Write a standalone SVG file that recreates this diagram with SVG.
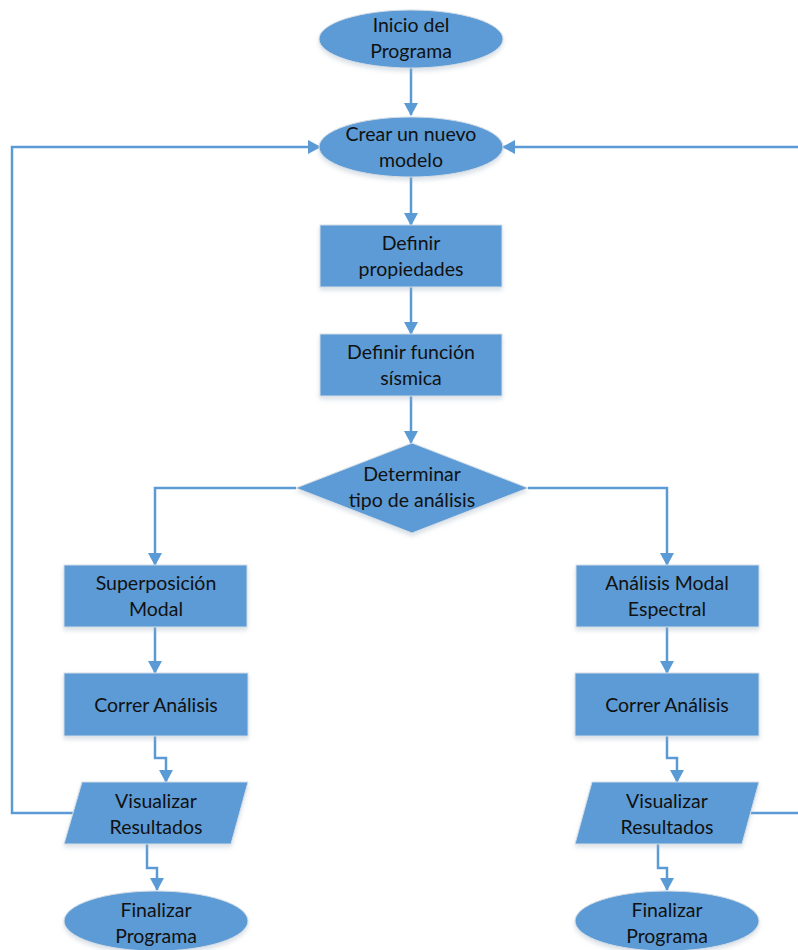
<svg xmlns="http://www.w3.org/2000/svg" width="798" height="950" viewBox="0 0 798 950">
<style>
.s{fill:#5B9BD5;stroke:#d5dde6;stroke-width:1;filter:url(#sh)}
.t{font-family:Lato,"Liberation Sans",sans-serif;font-size:19.5px;fill:#111;text-anchor:middle}
.c{fill:none;stroke:#5B9BD5;stroke-width:2.5}
</style>
<defs>
<filter id="sh" x="-10%" y="-10%" width="120%" height="130%"><feDropShadow dx="0" dy="3" stdDeviation="2" flood-color="#9ab" flood-opacity="0.35"/></filter>
<marker id="a" markerWidth="14" markerHeight="14" refX="12" refY="7" orient="auto" markerUnits="userSpaceOnUse"><path d="M0,0 L13,7 L0,14 Z" fill="#5B9BD5"/></marker>
</defs>
<g id="connectors">
<path class="c" d="M411,68 V115" marker-end="url(#a)"/>
<path class="c" d="M411,177 V225" marker-end="url(#a)"/>
<path class="c" d="M411,287 V334" marker-end="url(#a)"/>
<path class="c" d="M411,396 V443" marker-end="url(#a)"/>
<path class="c" d="M296,488 H155 V565" marker-end="url(#a)"/>
<path class="c" d="M528,488 H667 V565" marker-end="url(#a)"/>
<path class="c" d="M155,627 V673" marker-end="url(#a)"/>
<path class="c" d="M667,627 V673" marker-end="url(#a)"/>
<path class="c" d="M155,736 V758 H166 V782" marker-end="url(#a)"/>
<path class="c" d="M667,736 V758 H677 V782" marker-end="url(#a)"/>
<path class="c" d="M147,844 V868 H157 V890" marker-end="url(#a)"/>
<path class="c" d="M658,844 V868 H667 V890" marker-end="url(#a)"/>
<path class="c" d="M73,813 H12 V147 H320" marker-end="url(#a)"/>
<path class="c" d="M750,813 H801 V147 H503" marker-end="url(#a)"/>
</g>
<g id="inicio"><ellipse class="s" cx="411" cy="39" rx="92" ry="29"/><text class="t" x="411" y="32">Inicio del</text><text class="t" x="411" y="58">Programa</text></g>
<g id="crear"><ellipse class="s" cx="411" cy="147" rx="92" ry="30"/><text class="t" x="411" y="141">Crear un nuevo</text><text class="t" x="411" y="167">modelo</text></g>
<g id="propiedades"><rect class="s" x="320" y="225" width="182" height="62"/><text class="t" x="411" y="250">Definir</text><text class="t" x="411" y="276">propiedades</text></g>
<g id="funcion"><rect class="s" x="320" y="334" width="182" height="62"/><text class="t" x="411" y="359">Definir función</text><text class="t" x="411" y="385">sísmica</text></g>
<g id="determinar"><polygon class="s" points="412,443 528,488 412,533 296,488"/><text class="t" x="412" y="481">Determinar</text><text class="t" x="412" y="507">tipo de análisis</text></g>
<g id="superposicion"><rect class="s" x="64" y="565" width="183" height="62"/><text class="t" x="156" y="590">Superposición</text><text class="t" x="156" y="616">Modal</text></g>
<g id="espectral"><rect class="s" x="576" y="565" width="183" height="62"/><text class="t" x="667" y="590">Análisis Modal</text><text class="t" x="667" y="616">Espectral</text></g>
<g id="correr1"><rect class="s" x="64" y="673" width="184" height="63"/><text class="t" x="156" y="712">Correr Análisis</text></g>
<g id="correr2"><rect class="s" x="575" y="673" width="184" height="63"/><text class="t" x="667" y="712">Correr Análisis</text></g>
<g id="visualizar1"><polygon class="s" points="82,782 248,782 231,844 64,844"/><text class="t" x="156" y="808">Visualizar</text><text class="t" x="156" y="834">Resultados</text></g>
<g id="visualizar2"><polygon class="s" points="592,782 759,782 742,844 575,844"/><text class="t" x="667" y="808">Visualizar</text><text class="t" x="667" y="834">Resultados</text></g>
<g id="fin1"><ellipse class="s" cx="156" cy="921" rx="92" ry="30"/><text class="t" x="156" y="917">Finalizar</text><text class="t" x="156" y="943">Programa</text></g>
<g id="fin2"><ellipse class="s" cx="667" cy="921" rx="92" ry="30"/><text class="t" x="667" y="917">Finalizar</text><text class="t" x="667" y="943">Programa</text></g>
</svg>
